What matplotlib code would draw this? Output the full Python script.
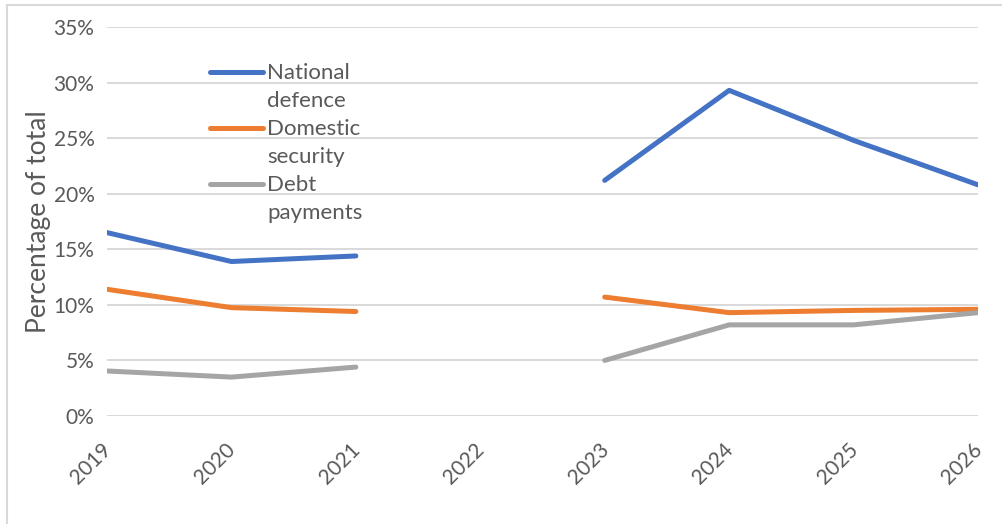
import numpy as np
import matplotlib
matplotlib.use("Agg")
import matplotlib.pyplot as plt
import matplotlib.transforms as mtransforms
from matplotlib.lines import Line2D

plt.rcParams['font.family'] = ['Lato', 'DejaVu Sans']

# data (2022 missing -> gap)
years = [2019, 2020, 2021, 2022, 2023, 2024, 2025, 2026]
defence = [16.5, 13.9, 14.4, np.nan, 21.2, 29.3, 24.8, 20.8]
domestic = [11.4, 9.75, 9.4, np.nan, 10.7, 9.3, 9.5, 9.6]
debt = [4.05, 3.5, 4.4, np.nan, 5.0, 8.2, 8.2, 9.3]
series_names = ["National\ndefence", "Domestic\nsecurity", "Debt\npayments"]
colors = ["#4472C4", "#ED7D31", "#A5A5A5"]
yticks = [0, 5, 10, 15, 20, 25, 30, 35]

txt = "#595959"

fig = plt.figure(figsize=(10.03, 5.24), dpi=100)
ax = fig.add_axes([107/1003, 1-416/524, 871/1003, 389/524])

for vals, c in zip([defence, domestic, debt], colors):
    ax.plot(years, vals, color=c, lw=3.6, solid_capstyle='round', zorder=3)

ax.set_xlim(2019, 2026)
ax.set_ylim(0, 35)
ax.set_yticks(yticks)
ax.set_yticklabels([f"{v}%" for v in yticks], fontsize=15, color=txt)
ax.set_xticks(years)
ax.set_xticklabels([str(y) for y in years], fontsize=15, color=txt,
                   rotation=45, ha='right', rotation_mode='anchor')
ax.tick_params(length=0, pad=9)
ax.tick_params(axis='x', pad=17)
# nudge year labels a bit to the left
shift = mtransforms.ScaledTranslation(-6/100, 0, fig.dpi_scale_trans)
for lab in ax.get_xticklabels():
    lab.set_transform(lab.get_transform() + shift)
ax.grid(axis='y', color='#d9d9d9', lw=1.4)
ax.set_axisbelow(True)
for s in ax.spines.values():
    s.set_visible(False)
ax.set_ylabel("Percentage of total", fontsize=19, color=txt, labelpad=2)

# legend drawn by hand so the line sits beside the first text line
leg_y = [0.884, 0.740, 0.596]
for name, c, y in zip(series_names, colors, leg_y):
    ax.add_line(Line2D([0.118, 0.179], [y, y], transform=ax.transAxes,
                       color=c, lw=3.6, solid_capstyle='round', zorder=4))
    ax.text(0.184, y + 0.023, name, transform=ax.transAxes, fontsize=16,
            color=txt, va='top', ha='left', linespacing=1.5)

# outer frame (top and left edges only)
fig.add_artist(Line2D([7/1003, 1], [1-5/524, 1-5/524], color='#d9d9d9', lw=1.5))
fig.add_artist(Line2D([7/1003, 7/1003], [0, 1-5/524], color='#d9d9d9', lw=1.5))

fig.savefig("out.png", dpi=100)
